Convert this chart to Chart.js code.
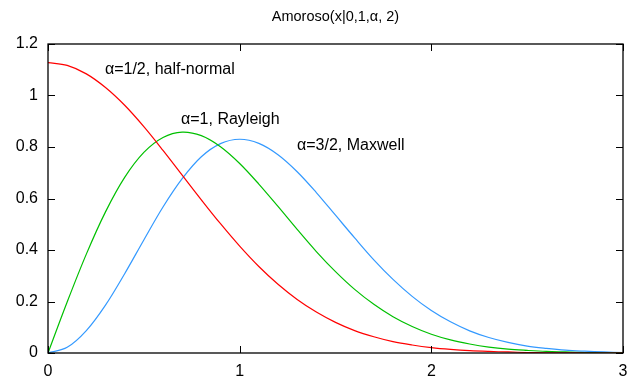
<!DOCTYPE html>
<html><head><meta charset="utf-8">
<script src="https://cdn.jsdelivr.net/npm/chart.js@4/dist/chart.umd.min.js"></script>
<style>html,body{margin:0;padding:0;background:#fff}canvas{display:block}</style>
</head><body>
<canvas id="c" width="644" height="383"></canvas>
<script>
const titleText = 'Amoroso(x|0,1,\u03b1, 2)';
const xValues = [0,0.1,0.2,0.3,0.4,0.5,0.6,0.7,0.8,0.9,1.0,1.1,1.2,1.3,1.4,1.5,1.6,1.7,1.8,1.9,2.0,2.1,2.2,2.3,2.4,2.5,2.6,2.7,2.8,2.9,3.0];
const halfNormal = [1.128,1.117,1.084,1.031,0.962,0.879,0.787,0.691,0.595,0.502,0.415,0.336,0.267,0.208,0.159,0.119,0.087,0.063,0.044,0.031,0.021,0.014,0.009,0.006,0.004,0.002,0.001,0.001,0.000,0.000,0.000];
const rayleigh = [0,0.198,0.384,0.548,0.682,0.779,0.837,0.858,0.844,0.801,0.736,0.656,0.569,0.480,0.394,0.316,0.247,0.189,0.141,0.103,0.073,0.051,0.035,0.023,0.015,0.010,0.006,0.004,0.002,0.001,0.001];
const maxwell = [0,0.022,0.087,0.186,0.308,0.439,0.567,0.677,0.762,0.813,0.830,0.814,0.770,0.704,0.623,0.535,0.447,0.362,0.286,0.220,0.165,0.121,0.086,0.060,0.041,0.027,0.018,0.011,0.007,0.004,0.002];
const seriesNames = ['\u03b1=1/2, half-normal','\u03b1=1, Rayleigh','\u03b1=3/2, Maxwell'];
const seriesColors = ['#ff0000','#00c000','#3399ff'];
const labelX = [0.297,0.694,1.299];
const labelY = [1.099,0.905,0.804];
const xTicks = [0,1,2,3];
const yTicks = [0,0.2,0.4,0.6,0.8,1,1.2];

const FONT = '"Liberation Sans", Arial, sans-serif';
const seriesData = [halfNormal, rayleigh, maxwell];

const framePlugin = {
  id: 'frame',
  afterDraw(chart) {
    const ctx = chart.ctx, a = chart.chartArea;
    const xs = chart.scales.x, ys = chart.scales.y;
    ctx.save();
    ctx.strokeStyle = '#000';
    ctx.lineWidth = 1.3;
    ctx.strokeRect(a.left, a.top, a.right - a.left, a.bottom - a.top);
    ctx.lineWidth = 1;
    ctx.beginPath();
    const tl = 7;
    xTicks.forEach(v => {
      const p = Math.round(xs.getPixelForValue(v)) + 0.5;
      ctx.moveTo(p, a.bottom); ctx.lineTo(p, a.bottom - tl);
      ctx.moveTo(p, a.top); ctx.lineTo(p, a.top + tl);
    });
    yTicks.forEach(v => {
      const p = Math.round(ys.getPixelForValue(v)) + 0.5;
      ctx.moveTo(a.left, p); ctx.lineTo(a.left + tl, p);
      ctx.moveTo(a.right, p); ctx.lineTo(a.right - tl, p);
    });
    ctx.stroke();
    ctx.fillStyle = '#000';
    ctx.font = '16px ' + FONT;
    ctx.textBaseline = 'middle';
    ctx.textAlign = 'left';
    seriesNames.forEach((n, i) => {
      ctx.fillText(n, xs.getPixelForValue(labelX[i]), ys.getPixelForValue(labelY[i]));
    });
    ctx.font = '14.5px ' + FONT;
    ctx.textAlign = 'center';
    ctx.fillText(titleText, (a.left + a.right) / 2, 17);
    ctx.restore();
  }
};

new Chart(document.getElementById('c'), {
  type: 'line',
  data: {
    datasets: seriesData.map((d, i) => ({
      label: seriesNames[i],
      data: xValues.map((x, j) => ({x: x, y: d[j]})),
      borderColor: seriesColors[i],
      borderWidth: 1.2,
      pointRadius: 0,
      fill: false,
      tension: 0.35
    }))
  },
  options: {
    responsive: false,
    animation: false,
    devicePixelRatio: 1,
    layout: {padding: {left: 0, right: 21, top: 44, bottom: 0}},
    plugins: {legend: {display: false}, title: {display: false}, tooltip: {enabled: false}},
    scales: {
      x: {
        type: 'linear', min: 0, max: 3,
        afterBuildTicks: ax => { ax.ticks = xTicks.map(v => ({value: v})); },
        afterFit: ax => { ax.height = 30; },
        grid: {display: false, drawTicks: false},
        border: {display: false},
        ticks: {autoSkip: false, maxRotation: 0, padding: 9, color: '#000', font: {family: FONT, size: 16}, callback: v => String(v)}
      },
      y: {
        type: 'linear', min: 0, max: 1.2,
        afterBuildTicks: ax => { ax.ticks = yTicks.map(v => ({value: v})); },
        afterFit: ax => { ax.width = 48; },
        grid: {display: false, drawTicks: false},
        border: {display: false},
        ticks: {autoSkip: false, padding: 10, color: '#000', font: {family: FONT, size: 16}, callback: v => String(+Number(v).toFixed(1))}
      }
    }
  },
  plugins: [framePlugin]
});
</script>
</body></html>
